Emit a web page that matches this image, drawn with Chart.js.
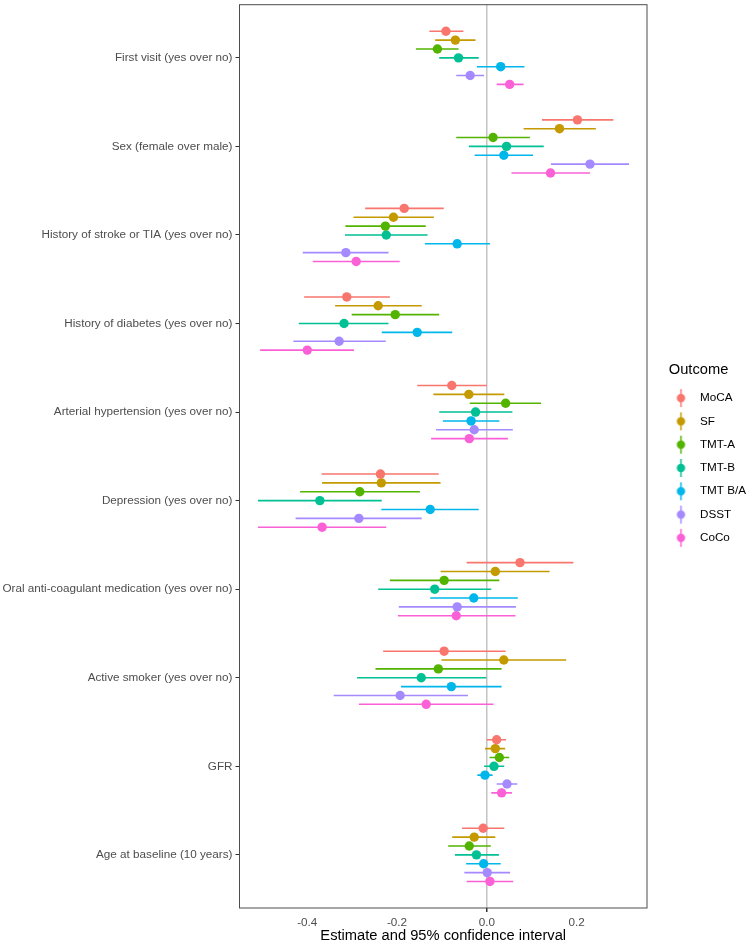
<!DOCTYPE html>
<html>
<head>
<meta charset="utf-8">
<script src="https://cdn.jsdelivr.net/npm/chart.js@4.4.1/dist/chart.umd.min.js"></script>
<style>
  html, body { margin: 0; padding: 0; background: #fff; }
</style>
</head>
<body>
<canvas id="forest" width="750" height="945"></canvas>
<script>
// Forest plot: estimate and 95% CI per predictor, one row per outcome
const categories = [
  "First visit (yes over no)",
  "Sex (female over male)",
  "History of stroke or TIA (yes over no)",
  "History of diabetes (yes over no)",
  "Arterial hypertension (yes over no)",
  "Depression (yes over no)",
  "Oral anti-coagulant medication (yes over no)",
  "Active smoker (yes over no)",
  "GFR",
  "Age at baseline (10 years)"
];
const outcomes = ["MoCA", "SF", "TMT-A", "TMT-B", "TMT B/A", "DSST", "CoCo"];
const colors = ["#F8766D", "#C49A00", "#53B400", "#00C094", "#00B6EB", "#A58AFF", "#FB61D7"];

// [estimate, lower, upper] for each category, in category order
const moca = [[-0.091, -0.128, -0.052], [0.202, 0.123, 0.282], [-0.184, -0.271, -0.096], [-0.312, -0.407, -0.216], [-0.078, -0.155, 0.000],
              [-0.237, -0.368, -0.107], [0.074, -0.045, 0.193], [-0.095, -0.231, 0.042], [0.022, 0.000, 0.043], [-0.008, -0.055, 0.039]];
const sf = [[-0.070, -0.115, -0.025], [0.162, 0.082, 0.243], [-0.208, -0.297, -0.118], [-0.242, -0.338, -0.145], [-0.040, -0.119, 0.039],
            [-0.235, -0.367, -0.103], [0.019, -0.103, 0.140], [0.038, -0.101, 0.177], [0.019, -0.004, 0.041], [-0.028, -0.077, 0.019]];
const tmtA = [[-0.110, -0.158, -0.063], [0.014, -0.068, 0.096], [-0.226, -0.315, -0.136], [-0.204, -0.301, -0.106], [0.042, -0.038, 0.121],
              [-0.283, -0.416, -0.149], [-0.095, -0.216, 0.028], [-0.108, -0.248, 0.033], [0.028, 0.006, 0.050], [-0.039, -0.086, 0.009]];
const tmtB = [[-0.063, -0.106, -0.018], [0.044, -0.040, 0.127], [-0.224, -0.316, -0.132], [-0.318, -0.419, -0.219], [-0.025, -0.106, 0.057],
              [-0.372, -0.510, -0.234], [-0.116, -0.242, 0.010], [-0.146, -0.289, -0.001], [0.016, -0.006, 0.039], [-0.023, -0.071, 0.027]];
const tmtBA = [[0.031, -0.022, 0.084], [0.038, -0.027, 0.103], [-0.066, -0.138, 0.007], [-0.155, -0.234, -0.077], [-0.035, -0.098, 0.028],
               [-0.126, -0.235, -0.018], [-0.029, -0.126, 0.069], [-0.079, -0.191, 0.033], [-0.004, -0.021, 0.013], [-0.007, -0.046, 0.031]];
const dsst = [[-0.037, -0.068, -0.006], [0.230, 0.143, 0.317], [-0.314, -0.410, -0.219], [-0.329, -0.431, -0.225], [-0.028, -0.113, 0.058],
              [-0.285, -0.426, -0.145], [-0.066, -0.196, 0.065], [-0.193, -0.341, -0.042], [0.045, 0.022, 0.068], [0.001, -0.050, 0.052]];
const coco = [[0.051, 0.022, 0.082], [0.142, 0.055, 0.230], [-0.291, -0.388, -0.194], [-0.400, -0.505, -0.296], [-0.039, -0.124, 0.047],
              [-0.367, -0.510, -0.224], [-0.068, -0.198, 0.064], [-0.135, -0.285, 0.015], [0.033, 0.010, 0.056], [0.007, -0.045, 0.059]];

const xTicks = [-0.4, -0.2, 0.0, 0.2];

const series = [moca, sf, tmtA, tmtB, tmtBA, dsst, coco];
const FONT = "'Liberation Sans', Arial, Helvetica, sans-serif";

// dodge: 7 outcomes spread over 0.7 of a category slot
const rowY = (i, j) => i + 1 + (j - 3) * 0.1;

const pointSets = series.map((s, j) => ({
  type: "scatter",
  label: outcomes[j],
  order: 0,
  data: s.map((r, i) => ({ x: r[0], y: rowY(i, j) })),
  backgroundColor: colors[j],
  borderColor: colors[j],
  borderWidth: 0,
  pointRadius: 4.7,
  pointHoverRadius: 4.7
}));

const ciSets = series.map((s, j) => ({
  type: "line",
  label: outcomes[j] + " CI",
  order: 1,
  data: s.flatMap((r, i) => [{ x: r[1], y: rowY(i, j) }, { x: r[2], y: rowY(i, j) }, { x: null, y: null }]),
  borderColor: colors[j],
  borderWidth: 1.6,
  pointRadius: 0,
  spanGaps: false,
  fill: false
}));

// legend keys: point with vertical line (pointrange key)
const keyIcons = colors.map(c => {
  const cv = document.createElement("canvas");
  cv.width = 30; cv.height = 20;
  const g = cv.getContext("2d");
  const kx = 19.6;
  g.strokeStyle = c; g.lineWidth = 1.5;
  g.beginPath(); g.moveTo(kx, 1); g.lineTo(kx, 19); g.stroke();
  g.fillStyle = c;
  g.beginPath(); g.arc(kx, 10, 4.2, 0, Math.PI * 2); g.fill();
  return cv;
});

const panelBox = {
  id: "panelBox",
  afterDatasetsDraw(chart) {
    const { ctx, chartArea: a } = chart;
    ctx.save();
    ctx.strokeStyle = "#4d4d4d";
    ctx.lineWidth = 1;
    ctx.strokeRect(a.left, a.top, a.right - a.left, a.bottom - a.top);
    ctx.restore();
  }
};

new Chart(document.getElementById("forest").getContext("2d"), {
  type: "scatter",
  data: { datasets: [...pointSets, ...ciSets] },
  plugins: [panelBox],
  options: {
    responsive: false,
    animation: false,
    devicePixelRatio: 1,
    layout: { padding: { top: 2, right: 0, bottom: 0, left: 0 } },
    plugins: {
      tooltip: { enabled: false },
      legend: {
        position: "right",
        align: "center",
        fullSize: false,
        maxWidth: 103,
        title: {
          display: true,
          text: "Outcome",
          position: "center",
          color: "#000",
          font: { family: FONT, size: 14.7 },
          padding: { top: 5.6, bottom: 0 }
        },
        labels: {
          usePointStyle: true,
          pointStyleWidth: 35.5,
          padding: 11.6,
          color: "#000",
          font: { family: FONT, size: 11.7 },
          generateLabels: () => outcomes.map((name, j) => ({
            text: name,
            pointStyle: keyIcons[j],
            fillStyle: colors[j],
            strokeStyle: colors[j],
            lineWidth: 0,
            hidden: false,
            datasetIndex: j,
            fontColor: "#000"
          }))
        }
      }
    },
    scales: {
      x: {
        type: "linear",
        min: -0.551,
        max: 0.357,
        afterBuildTicks: scale => { scale.ticks = xTicks.map(v => ({ value: v })); },
        afterFit: scale => { scale.height = 37; scale.paddingLeft = 0; scale.paddingRight = 0; },
        border: { display: false },
        grid: {
          drawOnChartArea: true,
          drawTicks: true,
          tickLength: 4,
          tickColor: "#333",
          color: c => (c.tick && c.tick.value === 0 ? "#c4c4c4" : "rgba(0,0,0,0)"),
          lineWidth: c => (c.tick && c.tick.value === 0 ? 1.5 : 0)
        },
        ticks: {
          color: "#4d4d4d",
          padding: 4,
          font: { family: FONT, size: 11.7 },
          callback: v => v.toFixed(1)
        },
        title: {
          display: true,
          text: "Estimate and 95% confidence interval",
          color: "#000",
          font: { family: FONT, size: 14.7 },
          padding: { top: 0, bottom: 0 }
        }
      },
      y: {
        type: "linear",
        min: 0.4,
        max: 10.6,
        reverse: true,
        afterBuildTicks: scale => { scale.ticks = categories.map((c, i) => ({ value: i + 1 })); },
        afterFit: scale => { scale.width = 239.5; scale.paddingTop = 0; scale.paddingBottom = 0; },
        border: { display: false },
        grid: {
          drawOnChartArea: false,
          drawTicks: true,
          tickLength: 4,
          tickColor: "#333"
        },
        ticks: {
          autoSkip: false,
          color: "#4d4d4d",
          padding: 3,
          font: { family: FONT, size: 11.7 },
          callback: v => categories[Math.round(v) - 1]
        }
      }
    }
  }
});
</script>
</body>
</html>
